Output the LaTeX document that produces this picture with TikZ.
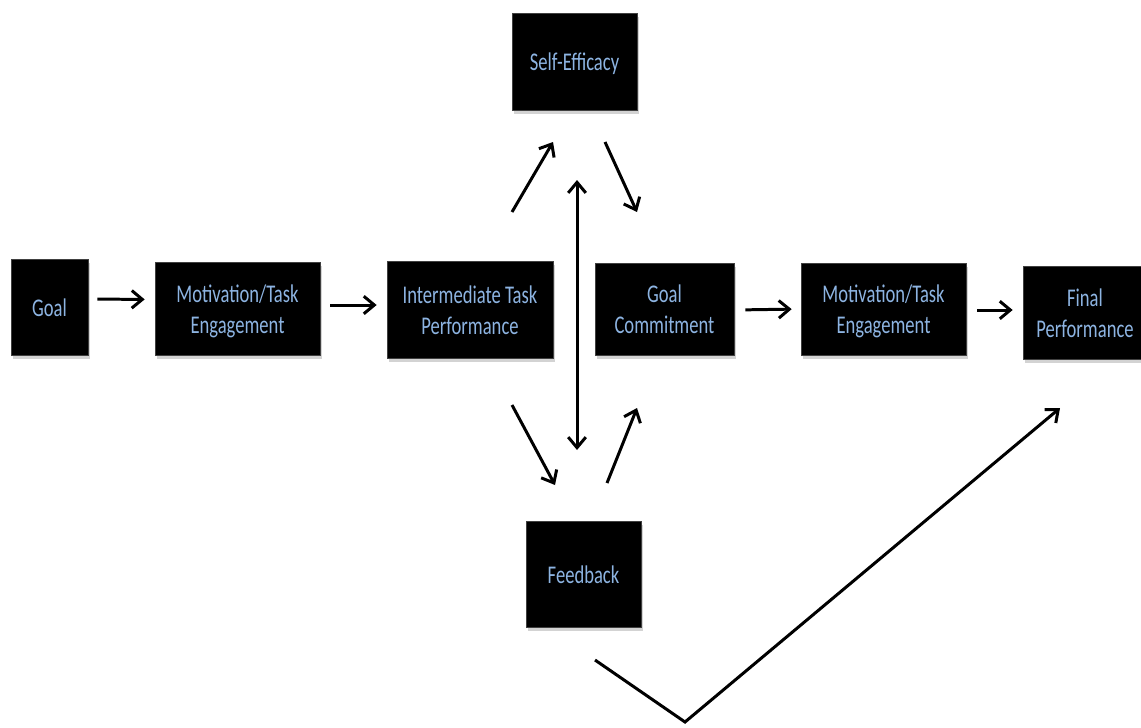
\documentclass[tikz,border=0pt]{standalone}
\usepackage{fontspec}
\usepackage{graphicx}
\setmainfont{Carlito}
\usetikzlibrary{arrows.meta,shadows}
\definecolor{txtblue}{RGB}{141,180,226}
\newcommand{\sq}[1]{\raisebox{-0.06cm}[\height][\depth]{\scalebox{0.73}[1]{\begin{tabular}{@{}c@{}}#1\end{tabular}}}}
\tikzset{
  box/.style={draw=black!75, fill=black, text=txtblue, align=center, inner sep=0pt,
    font=\fontsize{14.5}{17.6}\selectfont,
    drop shadow={shadow xshift=1pt, shadow yshift=-2pt, opacity=0.35}},
  tip/.tip={Straight Barb[length=6pt,width=10pt,line width=1.7pt]},
  arr/.style={line width=1.7pt, -tip},
  darr/.style={line width=1.7pt, tip-tip}
}
\begin{document}
\begin{tikzpicture}[x=0.02cm,y=-0.02cm]
\useasboundingbox (0,0) rectangle (1141,727);
\begin{scope}
\clip (0,0) rectangle (1141,727);
\node[box, minimum width=77*0.02cm, minimum height=96*0.02cm] (goal) at (49.5,307) {\sq{Goal}};
\node[box, minimum width=165*0.02cm, minimum height=93*0.02cm] (mot1) at (237.5,308.5) {\sq{Motivation/Task\\Engagement}};
\node[box, minimum width=166*0.02cm, minimum height=97*0.02cm] (inter) at (470,310) {\sq{Intermediate Task\\Performance}};
\node[box, minimum width=125*0.02cm, minimum height=97*0.02cm] (se) at (574.5,61.5) {\sq{Self-Efficacy}};
\node[box, minimum width=139*0.02cm, minimum height=92*0.02cm] (gc) at (664.5,309) {\sq{Goal\\Commitment}};
\node[box, minimum width=165*0.02cm, minimum height=92*0.02cm] (mot2) at (883.5,309) {\sq{Motivation/Task\\Engagement}};
\node[box, minimum width=124*0.02cm, minimum height=93*0.02cm] (final) at (1085,312.5) {\sq{Final\\Performance}};
\node[box, minimum width=115*0.02cm, minimum height=106*0.02cm] (fb) at (583.5,574) {\sq{Feedback}};
\end{scope}

\draw[arr, shorten <=9*0.02cm, shorten >=10*0.02cm] ([yshift=8*0.02cm]goal.east) -- ([yshift=9*0.02cm]mot1.west);
\draw[arr, shorten <=10*0.02cm, shorten >=10*0.02cm] ([yshift=3.5*0.02cm]mot1.east) -- ([yshift=5*0.02cm]inter.west);
\draw[arr, shorten <=11*0.02cm, shorten >=9*0.02cm] ([yshift=-1*0.02cm]gc.east) -- ([yshift=0*0.02cm]mot2.west);
\draw[arr, shorten <=11*0.02cm, shorten >=10*0.02cm] ([yshift=-1*0.02cm]mot2.east) -- ([yshift=2.5*0.02cm]final.west);

\coordinate (a1) at (512,212); \coordinate (a2) at (553,142);
\coordinate (b1) at (605,142); \coordinate (b2) at (637,212);
\coordinate (c1) at (577,180); \coordinate (c2) at (577,450);
\coordinate (d1) at (512,405); \coordinate (d2) at (555,485);
\coordinate (e1) at (607,483); \coordinate (e2) at (637,408);
\coordinate (f1) at (595,660); \coordinate (f2) at (685,722); \coordinate (f3) at (1060,408);

\draw[arr] (a1) -- (a2);
\draw[arr] (b1) -- (b2);
\draw[darr] (c1) -- (c2);
\draw[arr] (d1) -- (d2);
\draw[arr] (e1) -- (e2);
\draw[arr, line join=miter] (f1) -- (f2) -- (f3);
\end{tikzpicture}
\end{document}
